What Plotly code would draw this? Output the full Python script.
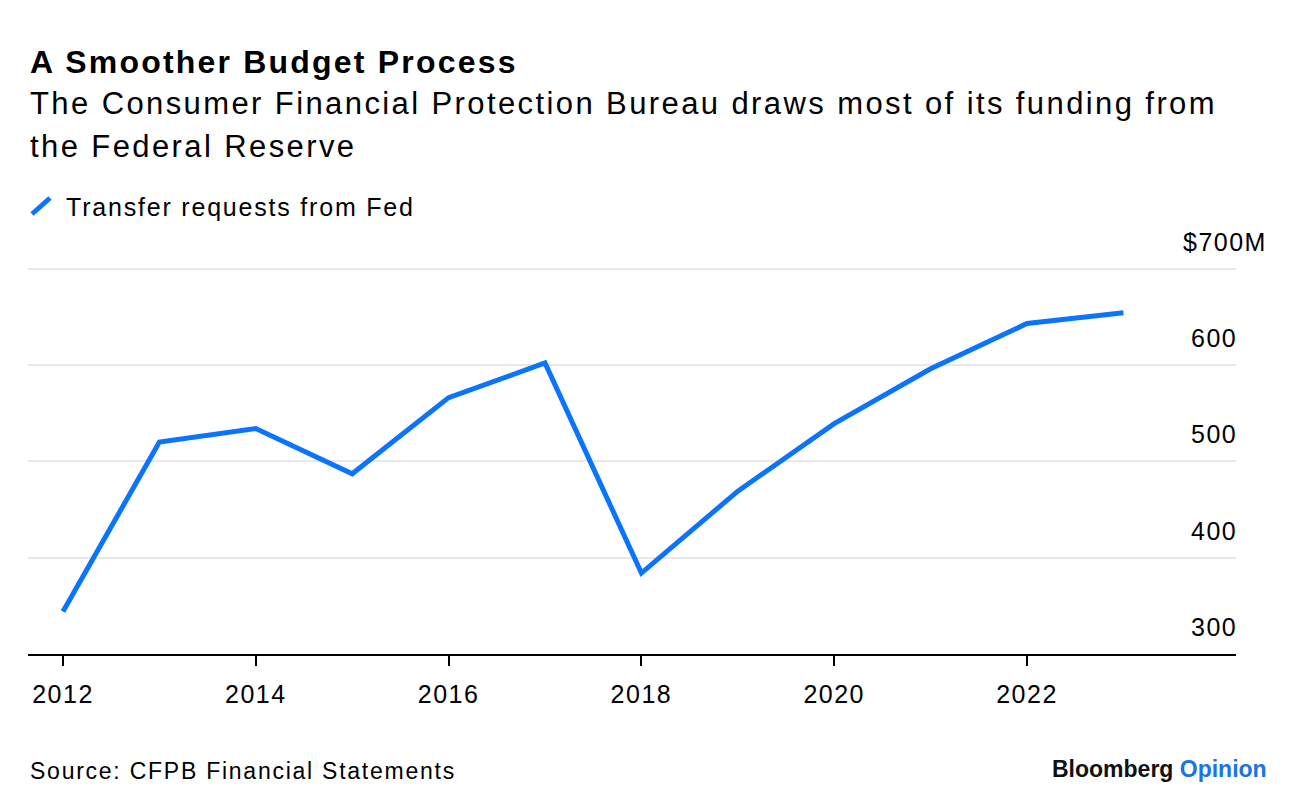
import plotly.graph_objects as go

years = [2012, 2013, 2014, 2015, 2016, 2017, 2018, 2019, 2020, 2021, 2022, 2023]
transfers = [344, 520, 534, 487, 566, 602, 384, 469, 539, 596, 643, 654]
series_name = "Transfer requests from Fed"
x_ticks = [2012, 2014, 2016, 2018, 2020, 2022]
y_ticks = [300, 400, 500, 600, 700]
y_tick_labels = ["300", "400", "500", "600", "$700M"]

BLUE = "#0A74FF"
FONT = "Liberation Sans"


def spaced(text, px):
    return f"<span style='letter-spacing:{px}px'>{text}</span>"


T, B = 264, 158
PH = 812 - T - B


def py(ypix):
    return (812 - B - ypix) / PH


def px_(xpix):
    return (xpix - 28) / 1208


fig = go.Figure()
fig.add_trace(go.Scatter(
    x=years, y=transfers, mode="lines", name=series_name,
    line=dict(color=BLUE, width=5, shape="linear"),
    showlegend=False, hoverinfo="x+y",
))

fig.update_layout(
    width=1296, height=812,
    margin=dict(l=28, r=60, t=T, b=B),
    paper_bgcolor="white", plot_bgcolor="white",
    font=dict(family=FONT, color="#000000", size=24),
    xaxis=dict(
        range=[2011.637, 2024.168],
        tickvals=x_ticks, ticktext=[spaced(str(v), 1.5) for v in x_ticks],
        showgrid=False, zeroline=False,
        showline=True, linecolor="#000000", linewidth=1.5,
        ticks="outside", ticklen=10, tickwidth=1.5, tickcolor="#000000",
        tickfont=dict(size=25, family=FONT, color="#000000"),
        ticklabelstandoff=7,
        fixedrange=True,
    ),
    yaxis=dict(
        range=[300, 704.7],
        tickvals=y_ticks, showticklabels=False,
        showgrid=True, gridcolor="#E8E8E8", gridwidth=1.5,
        zeroline=False, showline=False, ticks="",
        fixedrange=True,
    ),
)

# y tick labels placed above gridlines, right-aligned
for v, lab in zip(y_ticks, y_tick_labels):
    fig.add_annotation(
        xref="paper", yref="y", x=1, y=v,
        text=spaced(lab, 1.5), showarrow=False,
        xanchor="right", yanchor="middle",
        xshift=33 if lab.endswith("M") else 3, yshift=27,
        font=dict(size=25, family=FONT, color="#000000"),
    )

# Title & subtitle
fig.add_annotation(
    xref="paper", yref="paper", x=0, y=py(62), xanchor="left", yanchor="middle",
    text="<b>" + spaced("A Smoother Budget Process", 2.2) + "</b>", showarrow=False,
    font=dict(size=32, family=FONT, color="#000000"),
)
fig.add_annotation(
    xref="paper", yref="paper", x=0, y=py(104),
    xanchor="left", yanchor="middle", showarrow=False, align="left",
    text=spaced("The Consumer Financial Protection Bureau draws most of its funding from", 2.4),
    font=dict(size=31, family=FONT, color="#000000"),
)
fig.add_annotation(
    xref="paper", yref="paper", x=0, y=py(146),
    xanchor="left", yanchor="middle", showarrow=False, align="left",
    text=spaced("the Federal Reserve", 2.4),
    font=dict(size=31, family=FONT, color="#000000"),
)

# Legend
fig.add_shape(type="line", xref="paper", yref="paper",
              x0=px_(32), x1=px_(50), y0=py(214), y1=py(198),
              line=dict(color=BLUE, width=5))
fig.add_annotation(
    xref="paper", yref="paper", x=px_(64), y=py(207),
    xanchor="left", yanchor="middle", showarrow=False,
    text=spaced(series_name, 1.8), font=dict(size=25, family=FONT, color="#000000"),
)

# Source & branding
fig.add_annotation(
    xref="paper", yref="paper", x=0, y=py(771),
    xanchor="left", yanchor="middle", showarrow=False,
    text=spaced("Source: CFPB Financial Statements", 1.75),
    font=dict(size=23, family=FONT, color="#000000"),
)
fig.add_annotation(
    xref="paper", yref="paper", x=px_(1269), y=py(769),
    xanchor="right", yanchor="middle", showarrow=False,
    text="<b>Bloomberg</b> <b><span style='color:#1A73E8'>Opinion</span></b>",
    font=dict(size=23, family=FONT, color="#111111"),
)

fig.write_html("out.html")
